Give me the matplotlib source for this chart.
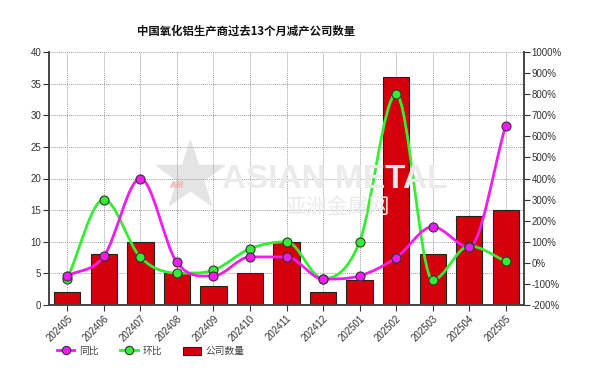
import matplotlib
matplotlib.use('Agg')
import matplotlib.pyplot as plt
from matplotlib.path import Path
from matplotlib.patches import PathPatch
from matplotlib.lines import Line2D
from matplotlib.patches import Patch

plt.rcParams['font.family'] = ['Liberation Sans', 'Noto Sans CJK SC', 'DejaVu Sans']

months = ['202405', '202406', '202407', '202408', '202409', '202410', '202411',
          '202412', '202501', '202502', '202503', '202504', '202505']
company_count = [2, 8, 10, 5, 3, 5, 10, 2, 4, 36, 8, 14, 15]
yoy = [-62, 31, 400, 2, -62, 28, 28, -77, -62, 24, 171, 75, 651]    # 同比 %
mom = [-75, 300, 27, -48, -35, 67, 100, -75, 100, 800, -81, 80, 8]   # 环比 %

c_bar = '#d4000c'
c_yoy = '#f01cf0'
c_mom = '#33ee33'
c_txt = '#333333'


def smooth_path(xs, ys, t=1 / 6):
    # catmull-rom 转 bezier, 极值点处切线取0, 避免过冲
    n = len(xs)
    slopes = []
    for i in range(n):
        a = i - 1 if i > 0 else i
        d = i + 1 if i + 1 < n else i
        if 0 < i < n - 1 and (ys[i] - ys[i - 1]) * (ys[i + 1] - ys[i]) <= 0:
            slopes.append(0.0)
        else:
            slopes.append((ys[d] - ys[a]) / (xs[d] - xs[a]))
    verts = [(xs[0], ys[0])]
    codes = [Path.MOVETO]
    for i in range(n - 1):
        dx = xs[i + 1] - xs[i]
        c1 = (xs[i] + dx / 3, ys[i] + slopes[i] * dx * 2 * t)
        c2 = (xs[i + 1] - dx / 3, ys[i + 1] - slopes[i + 1] * dx * 2 * t)
        verts += [c1, c2, (xs[i + 1], ys[i + 1])]
        codes += [Path.CURVE4] * 3
    return Path(verts, codes)


fig = plt.figure(figsize=(6.04, 3.74), dpi=100)
ax = fig.add_axes([49 / 604, 69 / 374, 475 / 604, 253 / 374])
x = list(range(len(months)))

# 水印
fig.add_artist(Line2D([190 / 604], [1 - 176 / 374], marker='*', markersize=52, color='#e4e4e4',
                      linestyle='none', transform=fig.transFigure, zorder=0))
fig.add_artist(Line2D([176 / 604], [1 - 184 / 374], marker='$AM$', markersize=9, color='#f0c0c0',
                      linestyle='none', transform=fig.transFigure, zorder=0))
fig.text(222 / 604, 1 - 180 / 374, 'ASIAN METAL', fontsize=24, color='#ebebeb', ha='left', va='center',
         fontweight='bold', zorder=0)
fig.text(285 / 604, 1 - 207 / 374, '亚洲金属网', fontsize=15, color='#ebebeb', ha='left', va='center',
         family=['Noto Sans CJK SC'], zorder=0)
ax.patch.set_alpha(0)

ax.bar(x, company_count, width=0.72, color=c_bar, edgecolor='#222222', linewidth=0.8, zorder=2)
ax.set_xlim(-0.5, 12.5)
ax.set_ylim(0, 40)
ax.set_yticks(range(0, 41, 5))
ax.set_xticks(x)
ax.set_xticklabels(months, rotation=45, ha='right', va='top', rotation_mode='anchor')
ax.grid(True, linestyle=(0, (1, 1)), color='#a0a0a0', linewidth=0.7, zorder=0)
ax.set_axisbelow(True)
ax.tick_params(axis='both', labelsize=7, colors=c_txt, length=4, width=0.8, pad=1.5)
ax.tick_params(axis='x', pad=2)

ax2 = ax.twinx()
ax2.set_ylim(-200, 1000)
ax2.set_yticks(range(-200, 1001, 100))
ax2.set_yticklabels(['%d%%' % v for v in range(-200, 1001, 100)])
ax2.tick_params(axis='y', labelsize=7, colors=c_txt, length=4, width=0.8, pad=1.5)

for a in (ax, ax2):
    a.spines['top'].set_visible(False)
    for s in ('left', 'right', 'bottom'):
        a.spines[s].set_color('#444444')
        a.spines[s].set_linewidth(1.2)

for vals, col in ((mom, c_mom), (yoy, c_yoy)):
    ax2.add_patch(PathPatch(smooth_path(x, vals), facecolor='none', edgecolor=col, linewidth=2.0, zorder=3))
    ax2.plot(x, vals, linestyle='none', marker='o', markersize=6.5, markerfacecolor=col,
             markeredgecolor='#333333', markeredgewidth=0.8, zorder=4)

fig.text(246 / 604, 1 - 31 / 374, '中国氧化铝生产商过去13个月减产公司数量', ha='center', va='center',
         fontsize=8.2, fontweight='bold', color='#111111', family=['Noto Sans CJK SC'])

handles = [
    Line2D([], [], color=c_yoy, linewidth=2, marker='o', markersize=6, markerfacecolor=c_yoy,
           markeredgecolor='#333333', markeredgewidth=0.8),
    Line2D([], [], color=c_mom, linewidth=2, marker='o', markersize=6, markerfacecolor=c_mom,
           markeredgecolor='#333333', markeredgewidth=0.8),
    Patch(facecolor=c_bar, edgecolor='#222222', linewidth=0.8),
]
leg = fig.legend(handles, ['同比', '环比', '公司数量'], loc='center left',
                 bbox_to_anchor=(52 / 604, 1 - 351 / 374), ncol=3, frameon=False,
                 fontsize=7, handlelength=1.8, handleheight=0.9, handletextpad=0.5,
                 columnspacing=2.2, borderpad=0)
for t in leg.get_texts():
    t.set_color('#444444')
    t.set_family(['Noto Sans CJK SC'])

plt.savefig('out.png', dpi=100)
